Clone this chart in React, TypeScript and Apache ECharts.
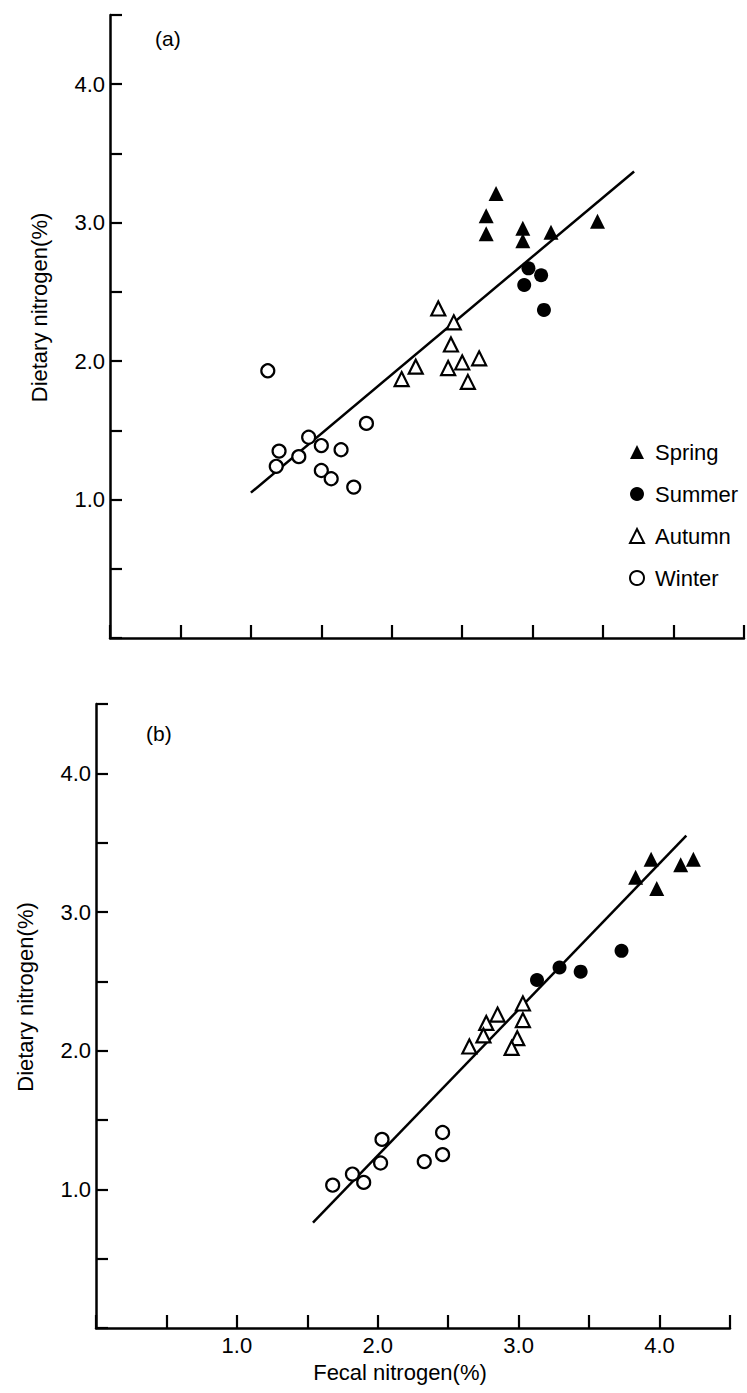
import React, { useEffect, useRef } from "react";
import * as echarts from "echarts";

const FONT = '"Liberation Sans", Arial, sans-serif';
const INK = "#000";
const FS = 22;

const seasons = ["Spring", "Summer", "Autumn", "Winter"];
const tickLabels = ["1.0", "2.0", "3.0", "4.0"];
const xAxisTitle = "Fecal nitrogen(%)";
const yAxisTitle = "Dietary nitrogen(%)";
const panelTags = ["(a)", "(b)"];

// Panel (a): [fecal N %, dietary N %]
const springA = [[2.74, 3.21], [2.67, 3.05], [2.67, 2.92], [2.93, 2.96], [2.93, 2.87], [3.13, 2.93], [3.46, 3.01]];
const summerA = [[2.97, 2.67], [3.06, 2.62], [2.94, 2.55], [3.08, 2.37]];
const autumnA = [[2.33, 2.38], [2.44, 2.28], [2.42, 2.12], [2.17, 1.96], [2.07, 1.87], [2.4, 1.95], [2.5, 1.99], [2.62, 2.02], [2.54, 1.85]];
const winterA = [[1.12, 1.93], [1.2, 1.35], [1.18, 1.24], [1.34, 1.31], [1.41, 1.45], [1.5, 1.39], [1.64, 1.36], [1.82, 1.55], [1.5, 1.21], [1.57, 1.15], [1.73, 1.09]];
const fitA = [[1.0, 1.05], [3.72, 3.37]];

// Panel (b)
const springB = [[3.83, 3.25], [3.94, 3.38], [3.98, 3.17], [4.15, 3.34], [4.24, 3.38]];
const summerB = [[3.13, 2.51], [3.29, 2.6], [3.44, 2.57], [3.73, 2.72]];
const autumnB = [[3.03, 2.34], [2.85, 2.26], [2.77, 2.2], [3.03, 2.22], [2.75, 2.11], [2.65, 2.03], [2.99, 2.09], [2.95, 2.02]];
const winterB = [[1.68, 1.03], [1.82, 1.11], [1.9, 1.05], [2.02, 1.19], [2.03, 1.36], [2.33, 1.2], [2.46, 1.25], [2.46, 1.41]];
const fitB = [[1.54, 0.76], [4.19, 3.55]];

const fmt = (v: number) => {
  const s = v.toFixed(1);
  return tickLabels.includes(s) ? s : "";
};

const markerStyles: Record<string, any> = {
  Spring: { symbol: "triangle", symbolSize: 15, itemStyle: { color: INK, opacity: 1 } },
  Summer: { symbol: "circle", symbolSize: 14, itemStyle: { color: INK, opacity: 1 } },
  Autumn: { symbol: "triangle", symbolSize: 14, itemStyle: { color: "#fff", borderColor: INK, borderWidth: 2.2, opacity: 1 } },
  Winter: { symbol: "circle", symbolSize: 13, itemStyle: { color: "#fff", borderColor: INK, borderWidth: 2.2, opacity: 1 } },
};

function makeXAxis(gridIndex: number, showLabels: boolean) {
  return {
    type: "value",
    gridIndex,
    min: 0,
    max: 4.5,
    interval: 0.5,
    axisLine: { show: true, onZero: false, lineStyle: { color: INK, width: 2.5 } },
    axisTick: { show: true, inside: true, length: 13, lineStyle: { color: INK, width: 2.2 } },
    axisLabel: { show: showLabels, formatter: fmt, margin: 6, fontSize: FS, fontFamily: FONT, color: INK },
    splitLine: { show: false },
    name: showLabels ? xAxisTitle : "",
    nameLocation: "middle",
    nameGap: 33,
    nameTextStyle: { fontSize: FS, fontFamily: FONT, color: INK, padding: [0, 26, 0, 0] },
  };
}

function makeYAxis(gridIndex: number) {
  return {
    type: "value",
    gridIndex,
    min: 0,
    max: 4.5,
    interval: 0.5,
    axisLine: { show: true, onZero: false, lineStyle: { color: INK, width: 2.5 } },
    axisTick: { show: true, inside: true, length: 12, lineStyle: { color: INK, width: 2.2 } },
    axisLabel: { show: true, formatter: fmt, margin: 5, fontSize: FS, fontFamily: FONT, color: INK },
    splitLine: { show: false },
    name: yAxisTitle,
    nameLocation: "middle",
    nameGap: 60,
    nameTextStyle: { fontSize: FS, fontFamily: FONT, color: INK, padding: [0, 0, 0, 38] },
  };
}

function panelSeries(idx: number, sets: number[][][], fit: number[][]) {
  const out: any[] = [
    {
      type: "line",
      name: "fit",
      xAxisIndex: idx,
      yAxisIndex: idx,
      data: fit,
      symbol: "none",
      lineStyle: { color: INK, width: 2.5 },
      z: 1,
    },
  ];
  seasons.forEach((s, i) => {
    out.push({
      type: "scatter",
      name: s,
      xAxisIndex: idx,
      yAxisIndex: idx,
      data: sets[i],
      ...markerStyles[s],
      z: 3,
    });
  });
  return out;
}

export default function App() {
  const ref = useRef<HTMLDivElement>(null);
  useEffect(() => {
    if (!ref.current) return;
    const chart = echarts.init(ref.current, null, { renderer: "svg" });
    chart.setOption({
      animation: false,
      backgroundColor: "#fff",
      textStyle: { fontFamily: FONT },
      grid: [
        { left: 110, top: 15, width: 634, height: 623 },
        { left: 96, top: 704, width: 634, height: 624 },
      ],
      xAxis: [makeXAxis(0, false), makeXAxis(1, true)],
      yAxis: [makeYAxis(0), makeYAxis(1)],
      legend: {
        orient: "vertical",
        left: 624,
        top: 436,
        itemWidth: 14,
        itemHeight: 14,
        itemGap: 20,
        selectedMode: false,
        data: seasons,
        textStyle: { fontSize: FS, fontFamily: FONT, color: INK, padding: [0, 0, 0, 6], lineHeight: 21 },
      },
      graphic: [
        { type: "text", left: 155, top: 28, style: { text: panelTags[0], fontSize: 21, fontFamily: FONT, fill: INK } },
        { type: "text", left: 146, top: 723, style: { text: panelTags[1], fontSize: 21, fontFamily: FONT, fill: INK } },
      ],
      series: [
        ...panelSeries(0, [springA, summerA, autumnA, winterA], fitA),
        ...panelSeries(1, [springB, summerB, autumnB, winterB], fitB),
      ],
    });
    return () => chart.dispose();
  }, []);
  return (
    <div
      ref={ref}
      style={{ position: "absolute", left: 0, top: 0, width: 747, height: 1393, background: "#fff" }}
    />
  );
}
